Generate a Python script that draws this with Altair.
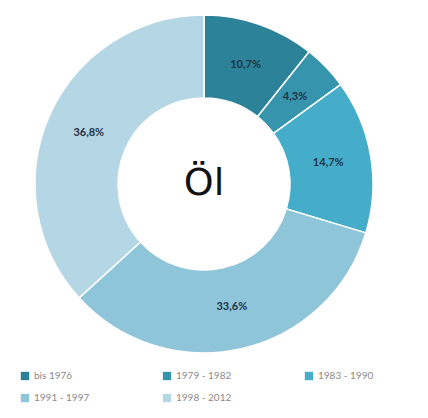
import altair as alt
import pandas as pd

categories = ["bis 1976", "1979 - 1982", "1983 - 1990", "1991 - 1997", "1998 - 2012"]
values = [10.7, 4.3, 14.7, 33.6, 36.8]
labels = ["10,7%", "4,3%", "14,7%", "33,6%", "36,8%"]
colors = ["#2c8399", "#3694ad", "#45adc9", "#8fc5d9", "#b5d6e5"]
center_text = ["Öl"]

df = pd.DataFrame({"cat": categories, "val": values, "lab": labels, "idx": list(range(len(values)))})

cx, cy = 196, 176

base = alt.Chart(df).encode(
    theta=alt.Theta("val:Q", stack=True),
    order=alt.Order("idx:Q"),
)

arcs = base.mark_arc(outerRadius=169, innerRadius=86, stroke="white", strokeWidth=1.5).encode(
    x=alt.value(cx), y=alt.value(cy),
    color=alt.Color(
        "cat:N",
        scale=alt.Scale(domain=categories, range=colors),
        sort=categories,
        legend=alt.Legend(
            title=None, orient="none", legendX=12, legendY=363, direction="horizontal",
            columns=3, columnPadding=72, rowPadding=12, symbolType="square", symbolSize=70,
            symbolStrokeWidth=0, labelFont="Lato", labelFontSize=10, labelColor="#8a8a8a",
        ),
    ),
)

text = base.mark_text(radius=126, font="Lato", fontWeight="bold", fontSize=11, color="#1e3445").encode(
    x=alt.value(cx), y=alt.value(cy), text="lab:N"
)

center = alt.Chart(pd.DataFrame({"t": center_text})).mark_text(
    font="DejaVu Sans", fontSize=38, color="#111111", baseline="middle", align="center"
).encode(x=alt.value(cx), y=alt.value(cy), text="t:N")

chart = alt.layer(arcs, text, center).properties(
    width=412, height=402, autosize=alt.AutoSizeParams(type="none"), padding=0
).configure_view(stroke=None)

chart.save("out.html", embed_options={"renderer": "svg", "actions": False})
